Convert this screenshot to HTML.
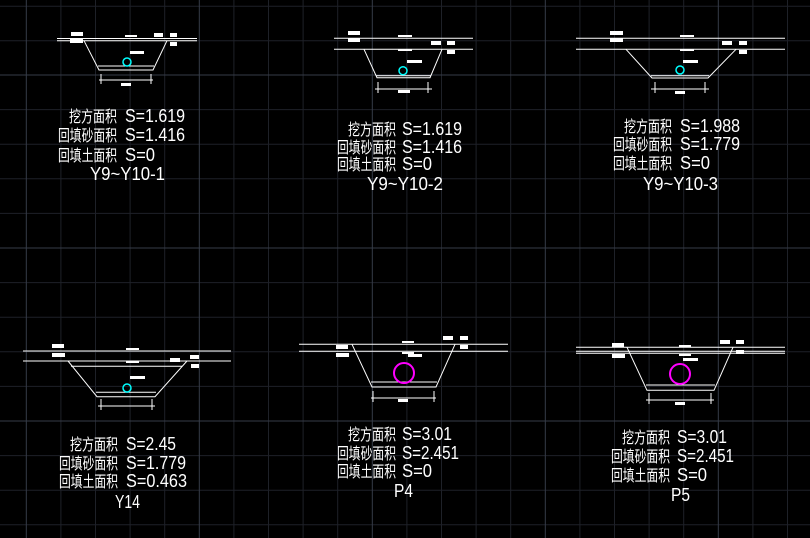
<!DOCTYPE html>
<html><head><meta charset="utf-8"><style>
html,body{margin:0;padding:0;background:#000;}
svg{display:block;}
.l{font-family:"Liberation Sans",sans-serif;font-size:18px;fill:#fff;}
.c{font-family:"Liberation Sans","Noto Sans CJK SC",sans-serif;font-size:16px;fill:#fff;}
</style></head><body>
<svg width="810" height="538" viewBox="0 0 810 538" xmlns="http://www.w3.org/2000/svg">
<rect width="810" height="538" fill="#000"/>
<g stroke="#1e2128" stroke-width="1">
<line x1="-8.3" y1="0" x2="-8.3" y2="538"/><line x1="60.9" y1="0" x2="60.9" y2="538"/><line x1="95.5" y1="0" x2="95.5" y2="538"/><line x1="130.1" y1="0" x2="130.1" y2="538"/><line x1="164.7" y1="0" x2="164.7" y2="538"/>
<line x1="233.9" y1="0" x2="233.9" y2="538"/><line x1="268.5" y1="0" x2="268.5" y2="538"/><line x1="303.1" y1="0" x2="303.1" y2="538"/><line x1="337.7" y1="0" x2="337.7" y2="538"/>
<line x1="406.9" y1="0" x2="406.9" y2="538"/><line x1="441.5" y1="0" x2="441.5" y2="538"/><line x1="476.1" y1="0" x2="476.1" y2="538"/><line x1="510.7" y1="0" x2="510.7" y2="538"/>
<line x1="579.9" y1="0" x2="579.9" y2="538"/><line x1="614.5" y1="0" x2="614.5" y2="538"/><line x1="649.1" y1="0" x2="649.1" y2="538"/><line x1="683.7" y1="0" x2="683.7" y2="538"/>
<line x1="752.9" y1="0" x2="752.9" y2="538"/><line x1="787.5" y1="0" x2="787.5" y2="538"/>
<line x1="0" y1="6.2" x2="810" y2="6.2"/><line x1="0" y1="40.8" x2="810" y2="40.8"/>
<line x1="0" y1="109.6" x2="810" y2="109.6"/><line x1="0" y1="144.2" x2="810" y2="144.2"/><line x1="0" y1="178.8" x2="810" y2="178.8"/><line x1="0" y1="213.4" x2="810" y2="213.4"/>
<line x1="0" y1="282.6" x2="810" y2="282.6"/><line x1="0" y1="317.2" x2="810" y2="317.2"/><line x1="0" y1="351.8" x2="810" y2="351.8"/><line x1="0" y1="386.4" x2="810" y2="386.4"/>
<line x1="0" y1="455.6" x2="810" y2="455.6"/><line x1="0" y1="490.2" x2="810" y2="490.2"/><line x1="0" y1="524.8" x2="810" y2="524.8"/>
</g>
<g stroke="#363c48" stroke-width="1">
<line x1="26.3" y1="0" x2="26.3" y2="538"/><line x1="199.3" y1="0" x2="199.3" y2="538"/><line x1="372.3" y1="0" x2="372.3" y2="538"/><line x1="545.3" y1="0" x2="545.3" y2="538"/><line x1="718.3" y1="0" x2="718.3" y2="538"/>
<line x1="0" y1="75" x2="810" y2="75"/><line x1="0" y1="248" x2="810" y2="248"/><line x1="0" y1="421" x2="810" y2="421"/>
</g>

<g stroke="#fff" stroke-width="1" fill="none">
<line x1="57" y1="38.5" x2="197" y2="38.5"/><line x1="57" y1="40.7" x2="197" y2="40.7"/>
<polyline points="84,40.7 99,70 153,70 167,40.7"/><line x1="98" y1="66" x2="154" y2="66"/>
<line x1="99" y1="80" x2="153" y2="80"/><line x1="101" y1="74" x2="101" y2="84"/><line x1="151" y1="74" x2="151" y2="84"/>
<line x1="334" y1="38.3" x2="473" y2="38.3"/><line x1="334" y1="49.3" x2="473" y2="49.3"/>
<polyline points="364,49.3 377,77.7 430,77.7 442,49.3"/><line x1="376" y1="75.7" x2="431" y2="75.7"/>
<line x1="375" y1="89" x2="432" y2="89"/><line x1="378" y1="82" x2="378" y2="93"/><line x1="428" y1="82" x2="428" y2="93"/>
<line x1="576" y1="38.3" x2="785" y2="38.3"/><line x1="576" y1="49.3" x2="785" y2="49.3"/>
<polyline points="626,49.3 652,78 708,78 736,49.3"/><line x1="651" y1="75.7" x2="709" y2="75.7"/>
<line x1="651" y1="89" x2="709" y2="89"/><line x1="655" y1="82" x2="655" y2="93"/><line x1="705" y1="82" x2="705" y2="93"/>
<line x1="23" y1="351" x2="231" y2="351"/><line x1="23" y1="361" x2="231" y2="361"/><line x1="71" y1="366.3" x2="182" y2="366.3"/>
<polyline points="68,361 97,396.7 155,396.7 187,361"/><line x1="96" y1="392.3" x2="156" y2="392.3"/>
<line x1="98" y1="406" x2="155" y2="406"/><line x1="101" y1="399" x2="101" y2="410"/><line x1="152" y1="399" x2="152" y2="410"/>
<line x1="299" y1="344.3" x2="508" y2="344.3"/><line x1="299" y1="351.3" x2="508" y2="351.3"/>
<polyline points="352,344.3 372,387 436,387 455,344.3"/><line x1="371" y1="382" x2="437" y2="382"/>
<line x1="371" y1="398" x2="436" y2="398"/><line x1="373" y1="391" x2="373" y2="402"/><line x1="434" y1="391" x2="434" y2="402"/>
<line x1="576" y1="347.3" x2="785" y2="347.3"/><line x1="576" y1="351.3" x2="785" y2="351.3"/><line x1="576" y1="353.3" x2="785" y2="353.3"/>
<polyline points="627,347.3 647,390.3 714,390.3 733,347.3"/><line x1="646" y1="385" x2="715" y2="385"/>
<line x1="646" y1="400" x2="714" y2="400"/><line x1="649" y1="393" x2="649" y2="404"/><line x1="711" y1="393" x2="711" y2="404"/>
</g>
<g fill="none" stroke-width="1.5">
<circle cx="127" cy="62" r="4" stroke="#00ffff"/>
<circle cx="403" cy="70.7" r="4" stroke="#00ffff"/>
<circle cx="680" cy="70" r="4" stroke="#00ffff"/>
<circle cx="127" cy="388" r="4" stroke="#00ffff"/>
<circle cx="404" cy="373" r="10" stroke="#ff00ff" stroke-width="2"/>
<circle cx="680" cy="374" r="10" stroke="#ff00ff" stroke-width="2"/>
</g>
<g fill="#fff">
<rect x="71" y="32" width="12" height="4"/><rect x="70" y="39" width="13" height="4"/><rect x="154" y="33" width="9" height="4"/><rect x="170" y="33" width="7" height="4"/><rect x="170" y="42" width="7" height="4"/><rect x="130" y="51" width="14" height="3"/><rect x="125" y="35" width="12" height="2"/><rect x="121" y="83" width="10" height="3"/>
<rect x="348" y="31" width="12" height="4"/><rect x="348" y="38" width="12" height="4"/><rect x="431" y="41" width="10" height="4"/><rect x="447" y="41" width="8" height="4"/><rect x="447" y="50" width="8" height="4"/><rect x="407" y="60" width="15" height="3"/><rect x="398" y="35" width="14" height="2"/><rect x="398" y="49" width="14" height="2"/><rect x="398" y="90" width="12" height="3"/>
<rect x="610" y="31" width="13" height="4"/><rect x="610" y="38" width="13" height="4"/><rect x="722" y="41" width="10" height="4"/><rect x="739" y="41" width="8" height="4"/><rect x="739" y="50" width="8" height="4"/><rect x="683" y="60" width="15" height="3"/><rect x="680" y="35" width="14" height="2"/><rect x="680" y="49" width="14" height="2"/><rect x="675" y="91" width="10" height="3"/>
<rect x="52" y="344" width="12" height="4"/><rect x="52" y="353" width="13" height="4"/><rect x="170" y="358" width="10" height="4"/><rect x="190" y="355" width="9" height="4"/><rect x="191" y="364" width="8" height="4"/><rect x="130" y="376" width="15" height="3"/><rect x="126" y="348" width="13" height="2"/><rect x="126" y="361" width="13" height="2"/>
<rect x="336" y="345" width="12" height="4"/><rect x="336" y="353" width="13" height="4"/><rect x="443" y="336" width="10" height="4"/><rect x="460" y="336" width="8" height="4"/><rect x="460" y="345" width="8" height="4"/><rect x="408" y="354" width="14" height="3"/><rect x="402" y="341" width="12" height="2"/><rect x="402" y="352" width="12" height="2"/><rect x="398" y="399" width="10" height="3"/>
<rect x="612" y="343" width="12" height="4"/><rect x="612" y="354" width="13" height="4"/><rect x="720" y="340" width="10" height="4"/><rect x="736" y="340" width="8" height="4"/><rect x="736" y="350" width="8" height="4"/><rect x="683" y="358" width="15" height="3"/><rect x="679" y="345" width="12" height="2"/><rect x="679" y="354" width="12" height="2"/><rect x="675" y="402" width="10" height="3"/>
</g>

<g class="c">
<text x="69" y="122" textLength="48" lengthAdjust="spacingAndGlyphs">挖方面积</text><text x="58" y="141" textLength="59" lengthAdjust="spacingAndGlyphs">回填砂面积</text><text x="58" y="161" textLength="59" lengthAdjust="spacingAndGlyphs">回填土面积</text>
<text x="348" y="135" textLength="48" lengthAdjust="spacingAndGlyphs">挖方面积</text><text x="337" y="153" textLength="59" lengthAdjust="spacingAndGlyphs">回填砂面积</text><text x="337" y="170" textLength="59" lengthAdjust="spacingAndGlyphs">回填土面积</text>
<text x="624" y="132" textLength="48" lengthAdjust="spacingAndGlyphs">挖方面积</text><text x="613" y="150" textLength="59" lengthAdjust="spacingAndGlyphs">回填砂面积</text><text x="613" y="169" textLength="59" lengthAdjust="spacingAndGlyphs">回填土面积</text>
<text x="70" y="450" textLength="48" lengthAdjust="spacingAndGlyphs">挖方面积</text><text x="59" y="469" textLength="59" lengthAdjust="spacingAndGlyphs">回填砂面积</text><text x="59" y="487" textLength="59" lengthAdjust="spacingAndGlyphs">回填土面积</text>
<text x="348" y="440" textLength="48" lengthAdjust="spacingAndGlyphs">挖方面积</text><text x="337" y="459" textLength="59" lengthAdjust="spacingAndGlyphs">回填砂面积</text><text x="337" y="477" textLength="59" lengthAdjust="spacingAndGlyphs">回填土面积</text>
<text x="622" y="443" textLength="48" lengthAdjust="spacingAndGlyphs">挖方面积</text><text x="611" y="462" textLength="59" lengthAdjust="spacingAndGlyphs">回填砂面积</text><text x="611" y="481" textLength="59" lengthAdjust="spacingAndGlyphs">回填土面积</text>
</g>
<g class="l">
<text x="125" y="122" textLength="60" lengthAdjust="spacingAndGlyphs">S=1.619</text>
<text x="125" y="141" textLength="60" lengthAdjust="spacingAndGlyphs">S=1.416</text>
<text x="125" y="161" textLength="30" lengthAdjust="spacingAndGlyphs">S=0</text>
<text x="90" y="180" textLength="75" lengthAdjust="spacingAndGlyphs">Y9~Y10-1</text>
<text x="402" y="135" textLength="60" lengthAdjust="spacingAndGlyphs">S=1.619</text>
<text x="402" y="153" textLength="60" lengthAdjust="spacingAndGlyphs">S=1.416</text>
<text x="402" y="170" textLength="30" lengthAdjust="spacingAndGlyphs">S=0</text>
<text x="367" y="190" textLength="76" lengthAdjust="spacingAndGlyphs">Y9~Y10-2</text>
<text x="680" y="132" textLength="60" lengthAdjust="spacingAndGlyphs">S=1.988</text>
<text x="680" y="150" textLength="60" lengthAdjust="spacingAndGlyphs">S=1.779</text>
<text x="680" y="169" textLength="30" lengthAdjust="spacingAndGlyphs">S=0</text>
<text x="643" y="190" textLength="75" lengthAdjust="spacingAndGlyphs">Y9~Y10-3</text>
<text x="126" y="450" textLength="50" lengthAdjust="spacingAndGlyphs">S=2.45</text>
<text x="126" y="469" textLength="60" lengthAdjust="spacingAndGlyphs">S=1.779</text>
<text x="126" y="487" textLength="61" lengthAdjust="spacingAndGlyphs">S=0.463</text>
<text x="115" y="508" textLength="25" lengthAdjust="spacingAndGlyphs">Y14</text>
<text x="402" y="440" textLength="50" lengthAdjust="spacingAndGlyphs">S=3.01</text>
<text x="402" y="459" textLength="57" lengthAdjust="spacingAndGlyphs">S=2.451</text>
<text x="402" y="477" textLength="30" lengthAdjust="spacingAndGlyphs">S=0</text>
<text x="394" y="497" textLength="19" lengthAdjust="spacingAndGlyphs">P4</text>
<text x="677" y="443" textLength="50" lengthAdjust="spacingAndGlyphs">S=3.01</text>
<text x="677" y="462" textLength="57" lengthAdjust="spacingAndGlyphs">S=2.451</text>
<text x="677" y="481" textLength="30" lengthAdjust="spacingAndGlyphs">S=0</text>
<text x="671" y="501" textLength="19" lengthAdjust="spacingAndGlyphs">P5</text>
</g>
</svg>
</body></html>
